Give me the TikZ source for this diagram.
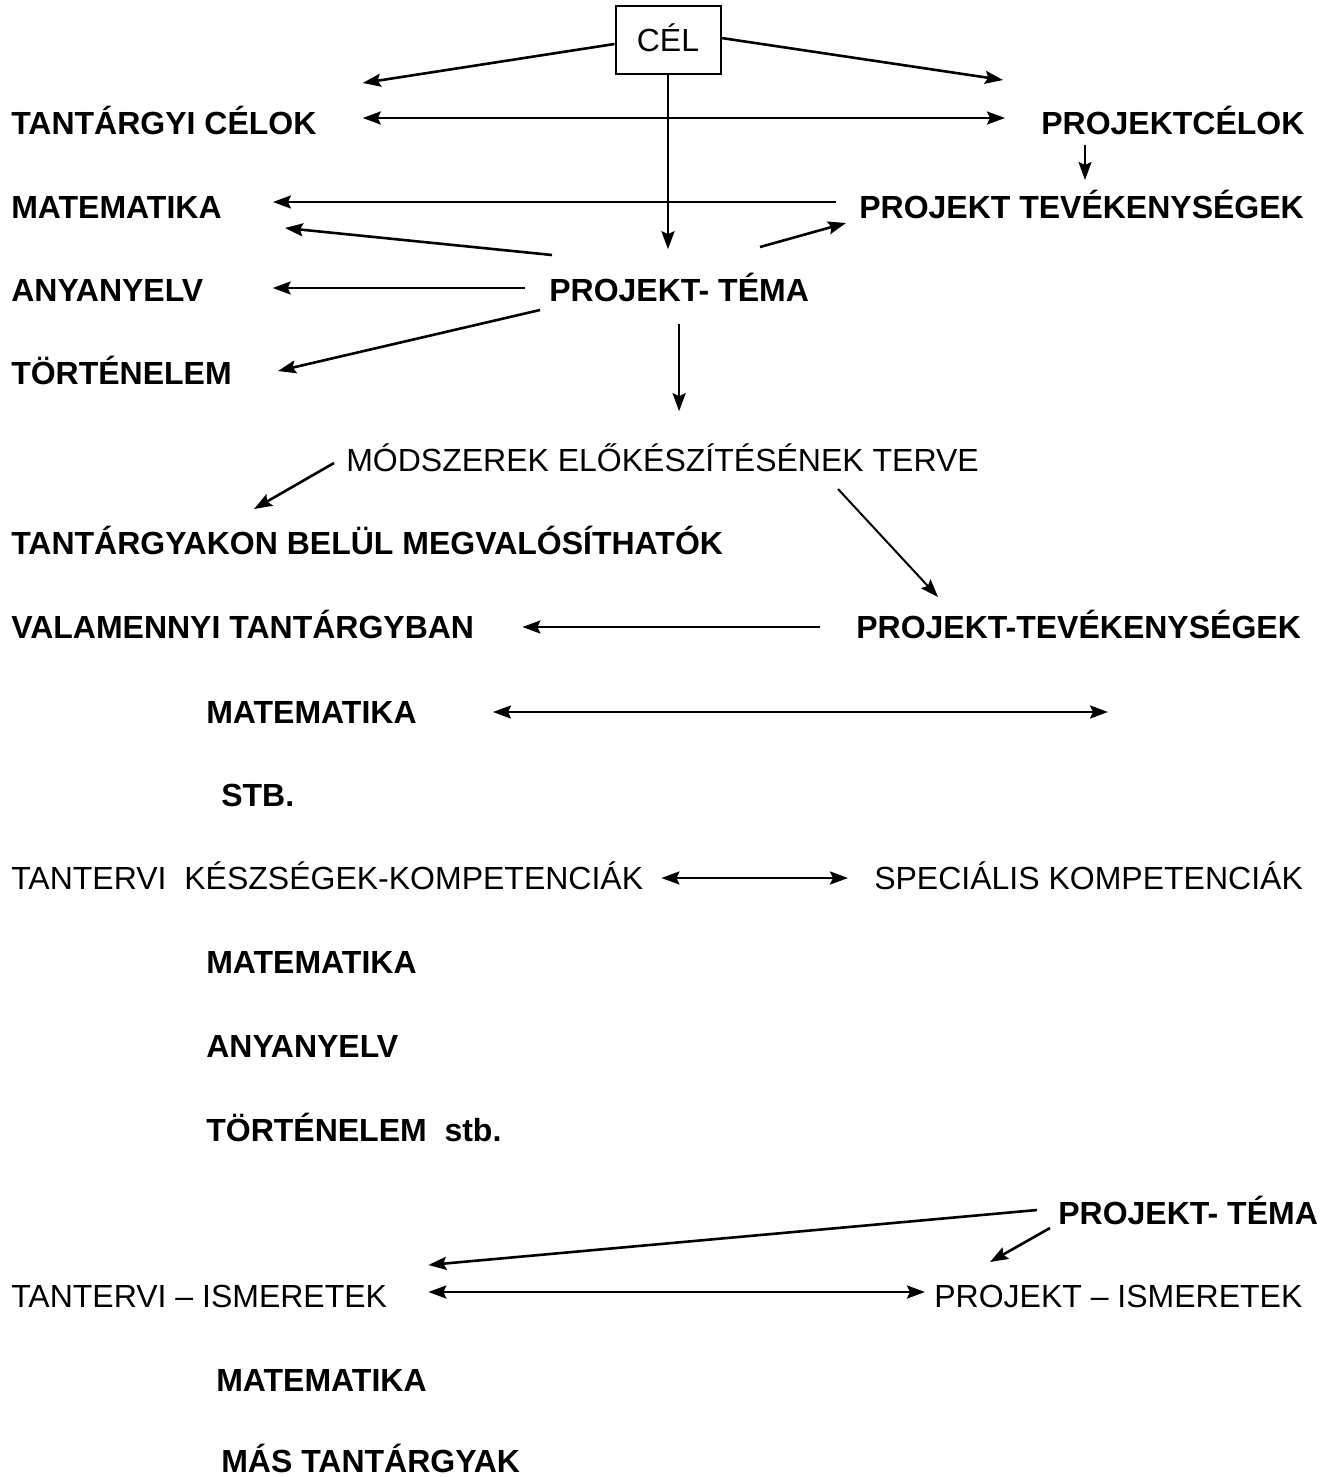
\documentclass[tikz,border=0pt]{standalone}
\usepackage{fontspec}
\setmainfont{Liberation Sans}
\usetikzlibrary{arrows.meta,calc}

\begin{document}
\begin{tikzpicture}[x=0.5pt, y=-0.5pt, line width=1.3pt,
	every node/.style={font=\fontsize{16}{19}\selectfont, inner sep=0pt, anchor=west, text height=11.5pt, text depth=0pt},
	lbl/.style={font=\fontsize{16}{19}\selectfont\bfseries},
	>={Stealth[length=9pt, width=6.5pt, inset=1.5pt]}]
	\useasboundingbox (0,0) rectangle (1332,1477);
	\node[draw, anchor=center, line width=1pt, minimum width=52.5pt, minimum height=34pt] (cel) at (668,40) {CÉL};
	\node[lbl] (tcelok) at (10,123) {TANTÁRGYI CÉLOK};
	\node[lbl] (pcelok) at (1040,123) {PROJEKTCÉLOK};
	\node[lbl] (mat1) at (10,207) {MATEMATIKA};
	\node[lbl] (ptev1) at (858,207) {PROJEKT TEVÉKENYSÉGEK};
	\node[lbl] (anya1) at (10,290) {ANYANYELV};
	\node[lbl] (tema1) at (548,290) {PROJEKT- TÉMA};
	\node[lbl] (tort1) at (10,373) {TÖRTÉNELEM};
	\node (modsz) at (345,460) {MÓDSZEREK ELŐKÉSZÍTÉSÉNEK TERVE};
	\node[lbl] (tbelul) at (10,543) {TANTÁRGYAKON BELÜL MEGVALÓSÍTHATÓK};
	\node[lbl] (valam) at (10,627) {VALAMENNYI TANTÁRGYBAN};
	\node[lbl] (ptev2) at (855,627) {PROJEKT-TEVÉKENYSÉGEK};
	\node[lbl] (mat2) at (205,712) {MATEMATIKA};
	\coordinate (matR) at (1108,712);
	\node[lbl] (stb) at (220,795) {STB.};
	\node (kesz) at (10,878) {TANTERVI\ \ KÉSZSÉGEK-KOMPETENCIÁK};
	\node (spec) at (873,878) {SPECIÁLIS KOMPETENCIÁK};
	\node[lbl] (mat3) at (205,962) {MATEMATIKA};
	\node[lbl] (anya3) at (205,1046) {ANYANYELV};
	\node[lbl] (tort3) at (205,1130) {TÖRTÉNELEM\ \ stb.};
	\node[lbl] (tema2) at (1057,1213) {PROJEKT- TÉMA};
	\node (tism) at (10,1296) {TANTERVI -- ISMERETEK};
	\node (pism) at (933,1296) {PROJEKT -- ISMERETEK};
	\node[lbl] (mat4) at (215,1380) {MATEMATIKA};
	\node[lbl] (mas) at (220,1461) {MÁS TANTÁRGYAK};
	\draw[->] ($(cel.west)+(0,4)$) -- ($(tcelok.east)+(45,-40)$);
	\draw[<->] ($(tcelok.east)+(45,-5)$) -- ($(pcelok.west)+(-35,-5)$);
	\draw[->] ($(cel.east)+(0,-2)$) -- ($(pcelok.west)+(-37,-43)$);
	\draw[->] (cel.south) -- ($(cel.south |- tema1.north)+(0,-28)$);
	\draw[->, line width=0.9pt] ($(pcelok.west)+(45,22)$) -- ($(ptev1.west)+(227,-27)$);
	\draw[->] ($(ptev1.west)+(-22,-5)$) -- ($(mat1.east)+(50,-5)$);
	\draw[->] ($(tema1.west)+(4,-35)$) -- ($(mat1.east)+(62,21)$);
	\draw[->] ($(tema1.west)+(212,-43)$) -- ($(ptev1.west)+(-12,16)$);
	\draw[->] ($(tema1.west)+(-23,-2)$) -- ($(anya1.east)+(68,-2)$);
	\draw[->] ($(tema1.west)+(-8,20)$) -- ($(tort1.east)+(45,-2)$);
	\draw[->] ($(tema1.south)+(0,21)$) -- ($(tema1.south |- modsz.north)+(0,-36)$);
	\draw[->] ($(modsz.west)+(-11,3)$) -- ($(tbelul.west)+(244,-34)$);
	\draw[->, line width=1pt] ($(modsz.west)+(493,29)$) -- ($(ptev2.west)+(83,-30)$);
	\draw[->] ($(ptev2.west)+(-35,0)$) -- ($(valam.east)+(47,0)$);
	\draw[<->] ($(mat2.east)+(75,0)$) -- (matR);
	\draw[<->] ($(kesz.east)+(17,0)$) -- ($(spec.west)+(-25,0)$);
	\draw[->] ($(tema2.west)+(-20,-3)$) -- ($(tism.east)+(40,-31)$);
	\draw[->] ($(tema2.west)+(-7,15)$) -- ($(pism.west)+(57,-34)$);
	\draw[<->] ($(tism.east)+(40,-4)$) -- ($(pism.west)+(-8,-4)$);
\end{tikzpicture}
\end{document}
